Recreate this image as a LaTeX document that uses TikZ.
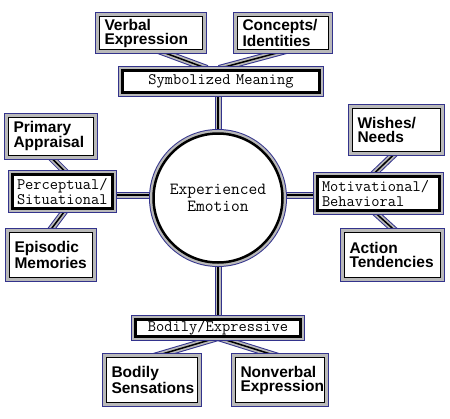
\documentclass[tikz,border=0pt]{standalone}
\usepackage{fontspec}
\newfontfamily\arialb{Liberation Sans}
\usetikzlibrary{backgrounds,calc}
\definecolor{navy}{RGB}{51,51,140}
\definecolor{lgray}{RGB}{185,185,185}
\tikzset{
  obox/.style={draw=black, line width=1pt, fill=white,
    preaction={draw=navy, line width=9pt},
    preaction={draw=lgray, line width=7pt},
    inner xsep=5pt, inner ysep=0pt, align=left,
    font=\arialb\bfseries\fontsize{15.5}{14}\selectfont},
  mbox/.style={draw=black, line width=3pt, fill=white,
    preaction={draw=navy, line width=9pt},
    preaction={draw=lgray, line width=7pt},
    inner xsep=4.5pt, inner ysep=0pt, align=left,
    font=\ttfamily\fontsize{16}{15.5}\selectfont},
  cnode/.style={circle, draw=black, line width=2.5pt, fill=white,
    preaction={draw=navy, line width=9pt},
    preaction={draw=lgray, line width=7pt},
    inner sep=0pt, align=center, minimum size=129pt,
    font=\ttfamily\fontsize{17}{17}\selectfont},
  conn/.style={preaction={draw=navy, line width=7pt},
    preaction={draw=lgray, line width=5pt},
    draw=black, line width=1.5pt}
}
\begin{document}
\begin{tikzpicture}[x=1pt,y=-1pt]
\useasboundingbox (0,0) rectangle (450,418);
% outer boxes: text width = W-19, minimum height = H-9
\node[obox, text width=93pt, minimum height=33pt] (verbal) at (151,33) {Verbal\\Expression};
\node[obox, text width=81pt, minimum height=33pt] (concepts) at (283,33) {Concepts/\\Identities};
\node[mbox, text width=188pt, minimum height=22pt, align=center] (sym) at (221,81) {Symbolized Meaning};
\node[obox, text width=75pt, minimum height=38pt] (primary) at (51,136) {Primary\\Appraisal};
\node[mbox, text width=91pt, minimum height=34pt] (perc) at (62.5,191.5) {Perceptual/\\Situational};
\node[obox, text width=73pt, minimum height=45pt] (episodic) at (51,255) {Episodic\\Memories};
\node[obox, text width=78pt, minimum height=43pt] (wishes) at (396.5,130) {Wishes/\\Needs};
\node[mbox, text width=113pt, minimum height=34pt] (motiv) at (378.5,193.5) {Motivational/\\Behavioral};
\node[obox, text width=86pt, minimum height=45pt] (action) at (392.5,255) {Action\\Tendencies};
\node[mbox, text width=156pt, minimum height=17pt, align=center] (bodexp) at (218,327.5) {Bodily/Expressive};
\node[obox, text width=81pt, minimum height=45pt] (bodsens) at (152,380) {Bodily\\Sensations};
\node[obox, text width=79pt, minimum height=45pt] (nonverbal) at (280,380) {Nonverbal\\Expression};
\node[cnode] (circ) at (218,198) {Experienced\\Emotion};
\begin{pgfonlayer}{background}
\path[conn] ($(verbal.south)+(6,0)$) -- ($(sym.north)+(-14,0)$);
\path[conn] ($(concepts.south)+(5,0)$) -- ($(sym.north)+(-2,0)$);
\path[conn] (circ.center) -- (circ.center |- sym.center);
\path[conn] ($(primary.south)+(-2,0)$) -- ($(perc.north)+(4,0)$);
\path[conn] ($(perc.south)+(3,0)$) -- ($(episodic.north)+(-2,0)$);
\path[conn] ([yshift=3pt]circ.center) -- ([yshift=3pt]circ.center -| perc.center);
\path[conn] ([yshift=3pt]circ.center) -- ([yshift=3pt]circ.center -| motiv.center);
\path[conn] (wishes.south) -- ($(motiv.north)+(-6,0)$);
\path[conn] ($(motiv.south)+(-4,0)$) -- ($(action.north)+(4,0)$);
\path[conn] (circ.center) -- (bodexp.center);
\path[conn] (bodexp.south) -- (bodsens.north);
\path[conn] (bodexp.south) -- (nonverbal.north);
\end{pgfonlayer}
\end{tikzpicture}
\end{document}
